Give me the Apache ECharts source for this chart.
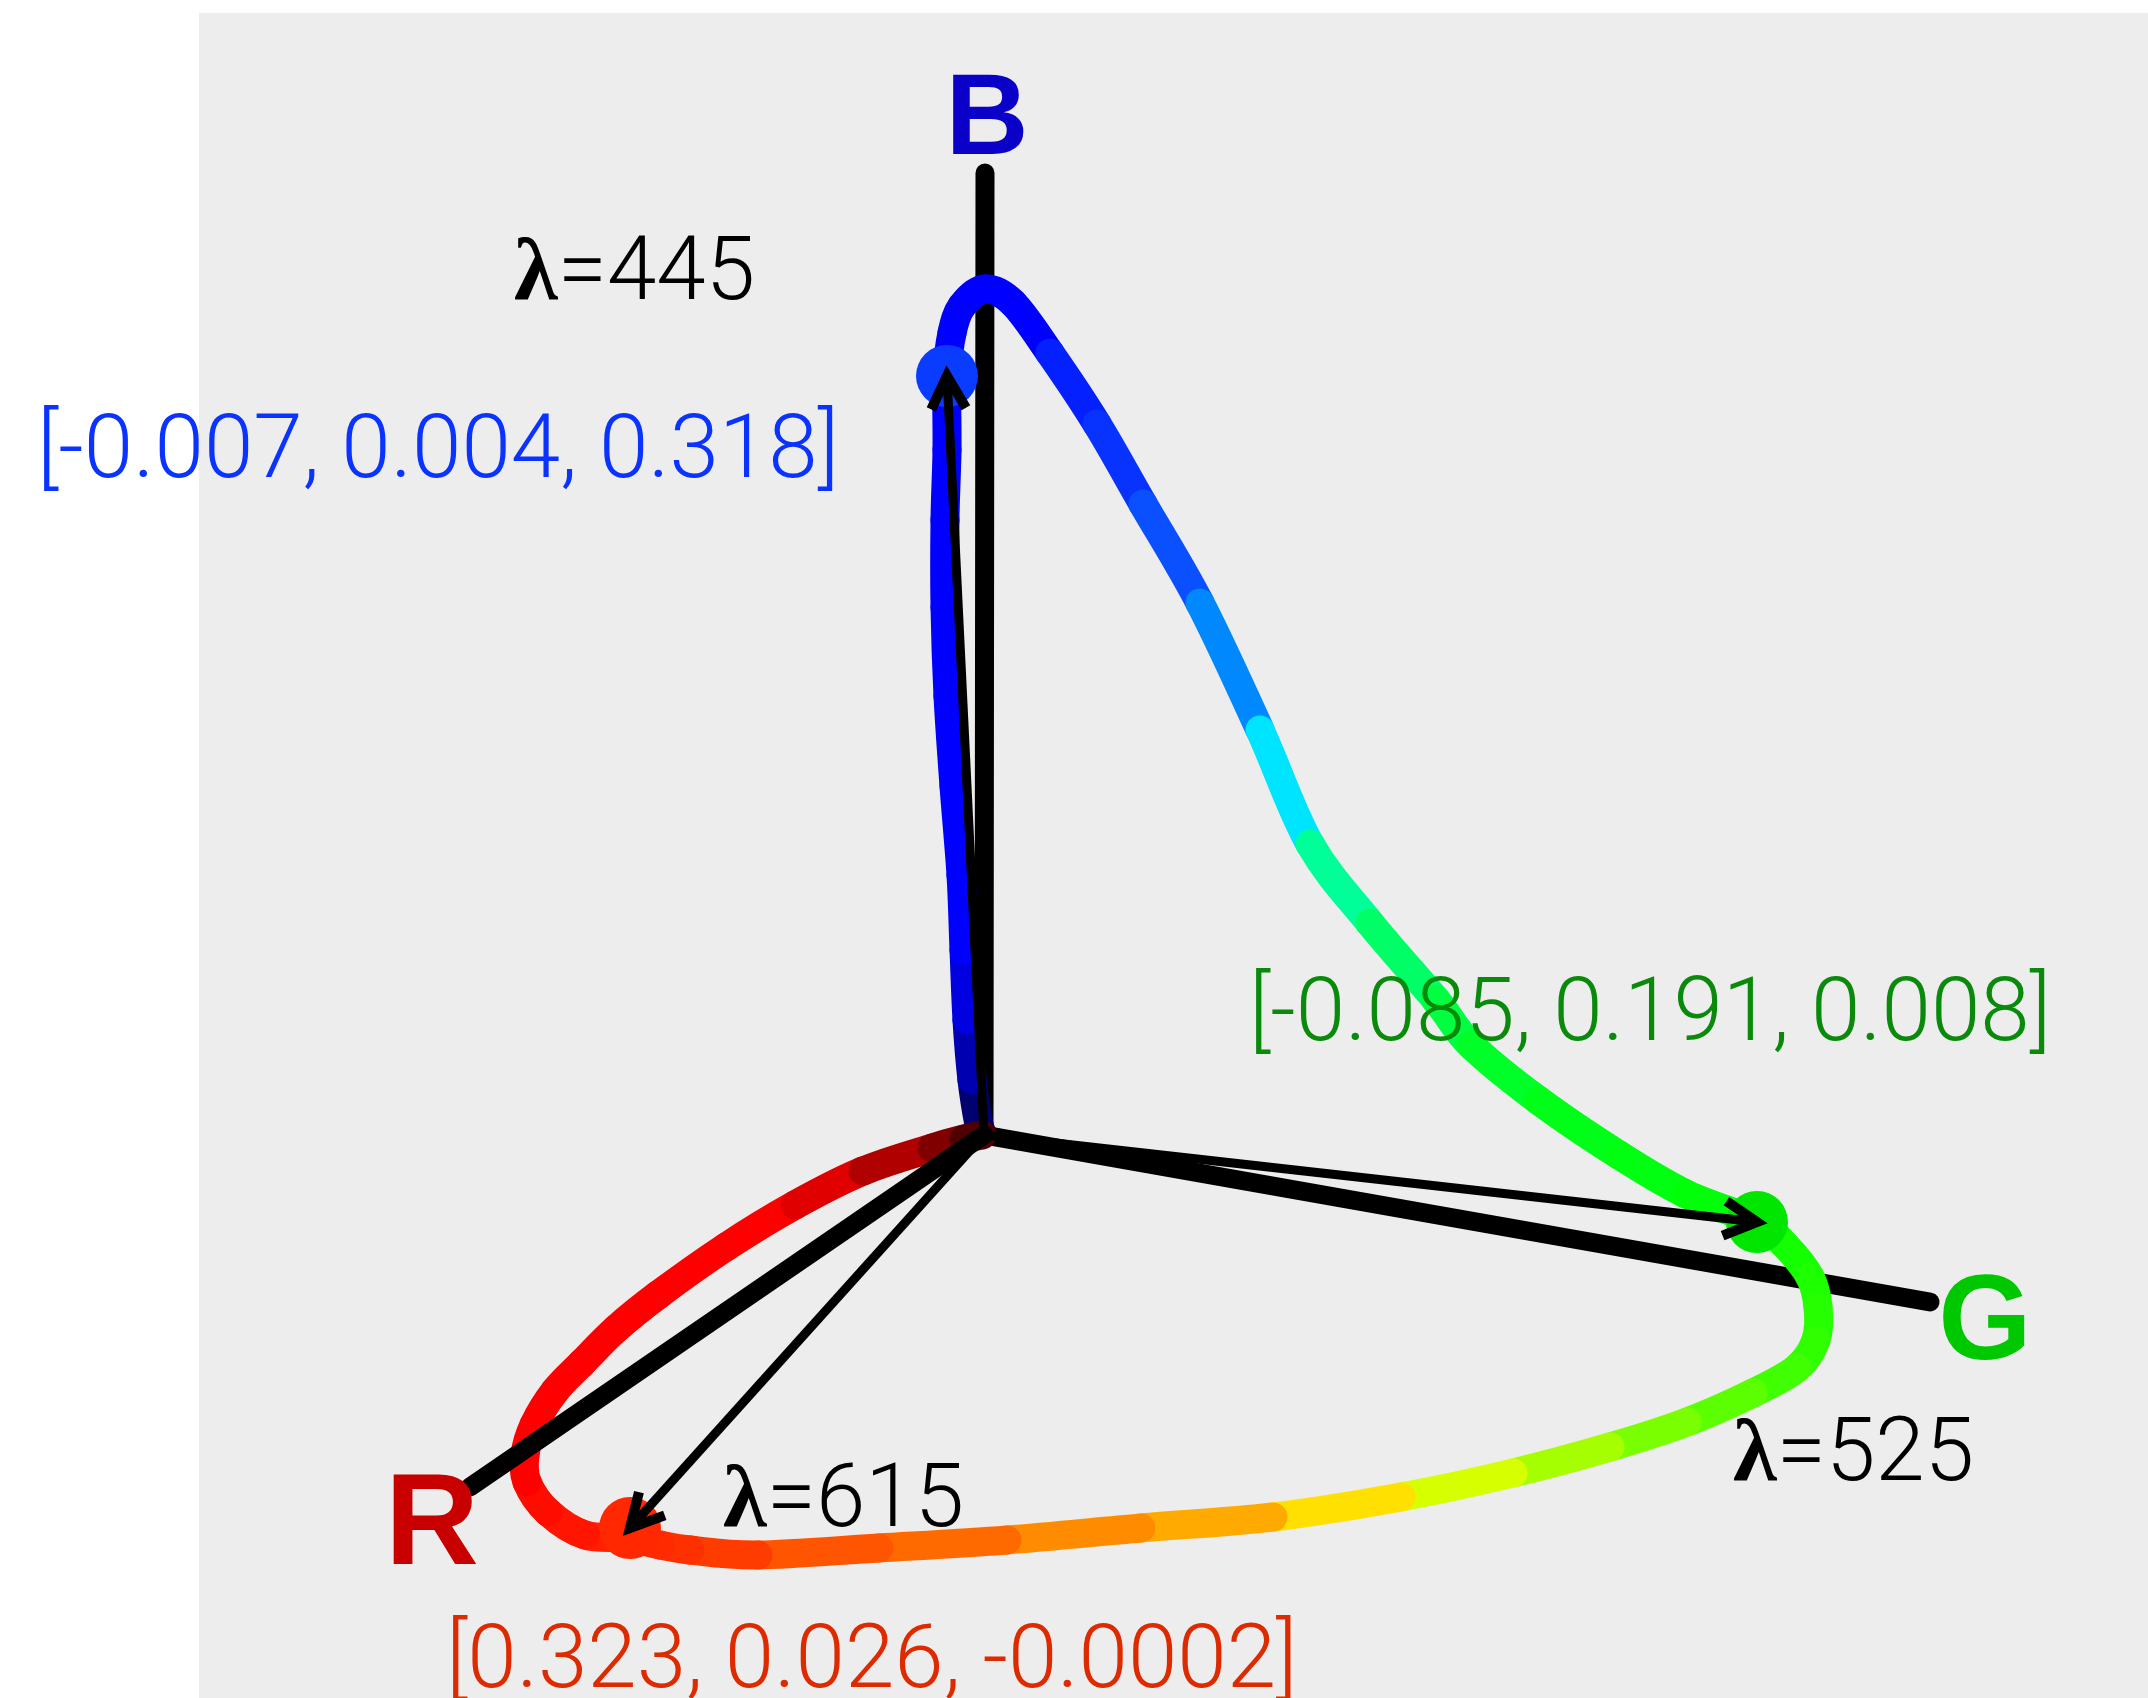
<!DOCTYPE html>
<html>
<head>
<meta charset="utf-8">
<script src="https://cdn.jsdelivr.net/npm/echarts@6/dist/echarts.min.js"></script>
<style>
html, body { margin: 0; padding: 0; background: #ffffff; }
#chart { width: 2148px; height: 1698px; }
</style>
</head>
<body>
<div id="chart"></div>
<script>
// ---------------- DATA ----------------
// Spectral locus of the CIE RGB colour matching functions, as seen in the
// picture: projected onto the view plane (origin = RGB origin, v up).
const wavelengths = [380, 390, 400, 405, 410, 415, 420, 425, 430, 435, 440, 445,
  450, 455, 460, 465, 470, 475, 480, 485, 490, 495, 500,
  505, 507.5, 510, 515, 520, 525,
  530, 535, 540, 545, 550, 555, 560, 565, 570, 575, 580, 585, 590, 595, 600,
  605, 610, 615, 620, 625, 630, 635, 640, 645, 650, 655, 660, 665, 670, 675, 680, 690, 700];
const locusU = [-2, -5, -12, -17, -20, -23, -30, -36, -39, -39, -37, -37,
  -32, -22, 1, 29, 66, 113, 159, 216, 276, 326, 386,
  452, 487, 554, 635, 702, 773,
  801, 826, 834, 832, 813, 769, 703, 626, 529, 417, 289, 157, 23, -105, -226,
  -294, -324, -356, -399, -436, -457, -459, -450, -429, -402, -368, -326, -258, -189, -121, -52, -20, -2];
const locusV = [2, 10, 55, 115, 185, 260, 349, 439, 528, 615, 685, 759,
  802, 829, 846, 832, 782, 711, 631, 532, 405, 291, 212,
  135, 90, 35, -20, -59, -87,
  -110, -142, -172, -205, -233, -258, -287, -312, -338, -362, -382, -393, -405, -413, -420,
  -415, -410, -403, -400, -377, -347, -320, -290, -256, -228, -194, -160, -112, -70, -36, -13, -4, 0];

// Highlighted wavelengths, their RGB tristimulus values and projected positions
const keyWavelengths = [445, 525, 615];
const keyRGB = [[-0.007, 0.004, 0.318], [-0.085, 0.191, 0.008], [0.323, 0.026, -0.0002]];
const keyU = [-37, 773, -354];
const keyV = [759, -87, -393];

// RGB axes (from the origin to their projected ends)
const axisNames = ['R', 'G', 'B'];
const axisEndU = [-514, 946, 1];
const axisEndV = [-352, -167, 962];

// ---------------- STYLE ----------------
const locusColors = ['#000040', '#000070', '#0000b0', '#0000e0', '#0000ff', '#0000ff', '#0000ff', '#0000ff', '#0000ff', '#0000ff', '#0000ff', '#0000ff',
  '#0000ff', '#0000ff', '#0000ff', '#0000ff', '#0520ff', '#0833ff', '#0a50ff', '#0088ff', '#00e5ff', '#00ff99', '#00ff66',
  '#00ff40', '#00ff28', '#00ff18', '#00ff10', '#00ff08', '#08ff00',
  '#14ff00', '#1eff00', '#26ff00', '#30ff00', '#40ff00', '#5cff00', '#7aff00', '#a6ff00', '#d6ff00', '#ffe000', '#ffaa00', '#ff8c00', '#ff6a00', '#ff5500', '#ff3c00',
  '#ff3000', '#ff2a00', '#ff2000', '#ff1500', '#ff0c00', '#ff0000', '#ff0000', '#ff0000', '#ff0000', '#ff0000', '#ff0000', '#ff0000', '#ff0000', '#e00000', '#b00000', '#800000', '#500000', '#500000'];
const pointColors = ['#0a3cff', '#00e600', '#ff2800'];
const keyTextColors = ['#0a33ff', '#0a8a0a', '#dd2a00'];
const axisTextColors = ['#c80000', '#00c800', '#0a00c8'];
const axisFontSize = [130, 120, 115];
const SANS = 'Roboto, "Liberation Sans", Arial, sans-serif';
const SERIF = '"Liberation Serif", "DejaVu Serif", serif';
const FS = 89;
const LOCUS_WIDTH = 29, AXIS_WIDTH = 19, ARROW_WIDTH = 9;
// label offsets in pixels from their anchor (key point / axis end)
const lambdaOffset = [[-433, -99], [-24, 236], [93, -24]];
const coordOffset = [[-910, 79], [-508, -204], [-184, 137]];
const axisLabelOffset = [[-38, 41], [55, 24], [2, -51]];

// ---------------- CHART ----------------
const chart = echarts.init(document.getElementById('chart'), null, { renderer: 'canvas' });

// each locus segment carries its two end points and their neighbours
const n = wavelengths.length;
const locusData = [];
for (let i = 0; i < n - 1; i++) {
  const a = Math.max(i - 1, 0), d = Math.min(i + 2, n - 1);
  locusData.push([locusU[i], locusV[i], locusU[i + 1], locusV[i + 1],
    locusU[a], locusV[a], locusU[d], locusV[d], wavelengths[i]]);
}
const axisData = axisNames.map((nm, i) => [0, 0, axisEndU[i], axisEndV[i], i]);

function axisItem(params, api) {
  const p = api.coord([api.value(0), api.value(1)]);
  const q = api.coord([api.value(2), api.value(3)]);
  return {
    type: 'line',
    shape: { x1: p[0], y1: p[1], x2: q[0], y2: q[1] },
    style: { stroke: '#000000', lineWidth: AXIS_WIDTH, lineCap: 'round' }
  };
}

// smooth (Catmull-Rom) drawing of one locus segment
function locusItem(params, api) {
  const p1 = api.coord([api.value(0), api.value(1)]);
  const p2 = api.coord([api.value(2), api.value(3)]);
  const p0 = api.coord([api.value(4), api.value(5)]);
  const p3 = api.coord([api.value(6), api.value(7)]);
  const t = 1 / 6;
  return {
    type: 'bezierCurve',
    shape: {
      x1: p1[0], y1: p1[1], x2: p2[0], y2: p2[1],
      cpx1: p1[0] + (p2[0] - p0[0]) * t, cpy1: p1[1] + (p2[1] - p0[1]) * t,
      cpx2: p2[0] - (p3[0] - p1[0]) * t, cpy2: p2[1] - (p3[1] - p1[1]) * t
    },
    style: { stroke: locusColors[params.dataIndex], lineWidth: LOCUS_WIDTH, lineCap: 'round', fill: 'none' }
  };
}

// text items
const textItems = [];
keyWavelengths.forEach((w, i) => {
  textItems.push({
    u: keyU[i], v: keyV[i], off: lambdaOffset[i],
    style: {
      text: '{l|λ}{n|=' + w + '}',
      rich: {
        l: { fontFamily: SERIF, fontWeight: 'bold', fontSize: FS, fill: '#000' },
        n: { fontFamily: SANS, fontWeight: 300, fontSize: FS, fill: '#000' }
      }
    }
  });
  textItems.push({
    u: keyU[i], v: keyV[i], off: coordOffset[i],
    style: {
      text: '[' + keyRGB[i].join(', ') + ']',
      fontFamily: SANS, fontWeight: 300, fontSize: FS, fill: keyTextColors[i]
    }
  });
});
axisNames.forEach((nm, i) => {
  textItems.push({
    u: axisEndU[i], v: axisEndV[i], off: axisLabelOffset[i], center: true,
    style: {
      text: nm, fontFamily: '"Liberation Sans", Arial, sans-serif', fontWeight: 'bold',
      fontSize: axisFontSize[i], fill: axisTextColors[i]
    }
  });
});

const option = {
  animation: false,
  backgroundColor: '#ffffff',
  grid: { left: 199, top: 13, right: 0, bottom: 0, show: true, backgroundColor: '#ededed', borderWidth: 0 },
  xAxis: { type: 'value', min: -785, max: 1164, show: false },
  yAxis: { type: 'value', min: -563, max: 1122, show: false },
  series: [
    { // B and G axes (behind the locus)
      type: 'custom', clip: false, silent: true, z: 1,
      data: axisData.filter((d) => d[4] !== 0),
      renderItem: axisItem
    },
    { // spectral locus
      type: 'custom', clip: false, silent: true, z: 2,
      data: locusData,
      renderItem: locusItem
    },
    { // R axis (in front of the locus)
      type: 'custom', clip: false, silent: true, z: 3,
      data: axisData.filter((d) => d[4] === 0),
      renderItem: axisItem
    },
    { // highlighted points
      type: 'scatter', silent: true, clip: false, z: 4,
      symbol: 'circle', symbolSize: 62,
      data: keyU.map((u, i) => ({ value: [u, keyV[i]], itemStyle: { color: pointColors[i], opacity: 1 } }))
    },
    { // arrows from the origin to the highlighted points
      type: 'custom', clip: false, silent: true, z: 5,
      data: keyU.map((u, i) => [u, keyV[i]]),
      renderItem: function (params, api) {
        const a = api.coord([0, 0]);
        const b = api.coord([api.value(0), api.value(1)]);
        const ang = Math.atan2(a[1] - b[1], a[0] - b[0]);
        const L = 37, H = 28 * Math.PI / 180;
        const c1 = [b[0] + L * Math.cos(ang + H), b[1] + L * Math.sin(ang + H)];
        const c2 = [b[0] + L * Math.cos(ang - H), b[1] + L * Math.sin(ang - H)];
        return {
          type: 'group',
          children: [
            { type: 'line', shape: { x1: a[0], y1: a[1], x2: b[0], y2: b[1] }, style: { stroke: '#000', lineWidth: ARROW_WIDTH } },
            { type: 'polyline', shape: { points: [c1, b, c2] }, style: { stroke: '#000', lineWidth: ARROW_WIDTH + 1, fill: 'none' } }
          ]
        };
      }
    },
    { // texts
      type: 'custom', clip: false, silent: true, z: 6,
      data: textItems.map((t) => [t.u, t.v]),
      renderItem: function (params, api) {
        const t = textItems[params.dataIndex];
        const p = api.coord([api.value(0), api.value(1)]);
        const style = Object.assign({}, t.style, { align: t.center ? 'center' : 'left', verticalAlign: 'middle' });
        return { type: 'text', x: p[0] + t.off[0], y: p[1] + t.off[1], style: style };
      }
    }
  ]
};
chart.setOption(option);
</script>
</body>
</html>
